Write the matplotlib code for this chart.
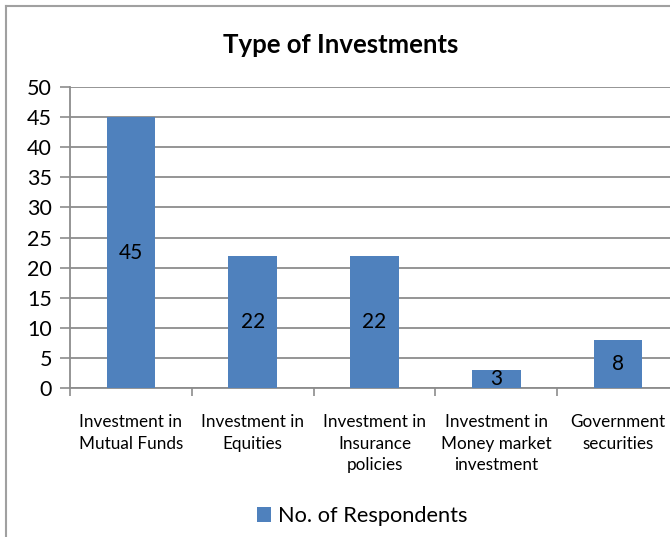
import matplotlib
matplotlib.use("Agg")
import matplotlib.pyplot as plt
from matplotlib.lines import Line2D

# Survey results
categories = [
    "Investment in\nMutual Funds",
    "Investment in\nEquities",
    "Investment in\nInsurance\npolicies",
    "Investment in\nMoney market\ninvestment",
    "Government\nsecurities",
]
respondents = [45, 22, 22, 3, 8]
y_ticks = list(range(0, 55, 5))

plt.rcParams["font.family"] = ["Lato", "DejaVu Sans"]

fig = plt.figure(figsize=(6.7, 5.37), dpi=100)
ax = fig.add_axes([70 / 670, 149 / 537, 609 / 670, 301 / 537])

grey = "#8c8c8c"
x = list(range(len(categories)))
bars = ax.bar(x, respondents, width=0.4, color="#4f81bd", zorder=3,
              label="No. of Respondents")
ax.bar_label(bars, label_type="center", fontsize=15, color="black")

ax.set_xlim(-0.5, len(categories) - 0.5)
ax.set_ylim(0, 50)
ax.set_yticks(y_ticks)
ax.tick_params(axis="y", labelsize=15.5, length=7, width=1.2, color=grey, pad=6)
ax.yaxis.grid(True, color=grey, linewidth=1.3, zorder=0)

# category labels sit between boundary ticks
ax.set_xticks([i - 0.5 for i in range(len(categories) + 1)])
ax.set_xticklabels([])
ax.tick_params(axis="x", length=6, width=1.2, color=grey)
ax.set_xticks(x, minor=True)
ax.set_xticklabels(categories, minor=True, fontsize=12.3, linespacing=1.4)
ax.tick_params(axis="x", which="minor", length=0, pad=19)

for side in ["top", "right"]:
    ax.spines[side].set_visible(False)
for side in ["left", "bottom"]:
    ax.spines[side].set_color(grey)
    ax.spines[side].set_linewidth(1.3)

fig.text(341 / 670, 1 - 45 / 537, "Type of Investments", ha="center",
         va="center", fontsize=18.5, fontweight="bold")

fig.legend(handles=[bars], loc="center", bbox_to_anchor=(362 / 670, 1 - 516 / 537),
           frameon=False, fontsize=15.7, handlelength=0.65, handleheight=0.65,
           handletextpad=0.3)

# chart frame
fig.add_artist(Line2D([6 / 670, 6 / 670], [0, 1 - 6 / 537], color="#a0a0a0", lw=1.5))
fig.add_artist(Line2D([6 / 670, 1], [1 - 6 / 537, 1 - 6 / 537], color="#a0a0a0", lw=1.5))

fig.savefig("out.png", dpi=100)
